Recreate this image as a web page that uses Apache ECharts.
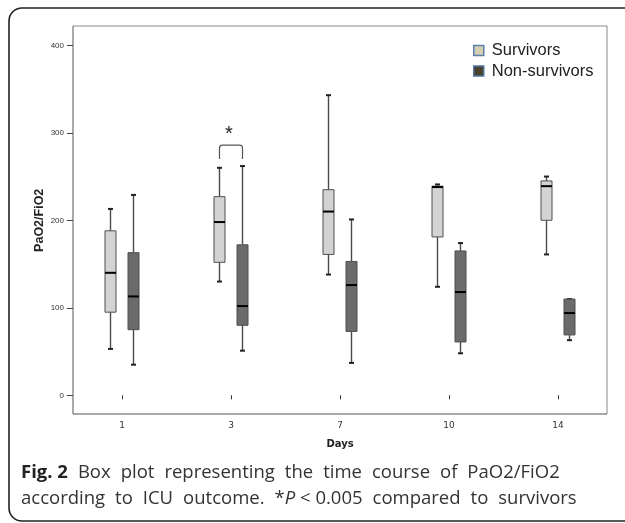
<!DOCTYPE html>
<html>
<head>
<meta charset="utf-8">
<script src="https://cdn.jsdelivr.net/npm/echarts@6/dist/echarts.min.js"></script>
<style>html,body{margin:0;padding:0;background:#fff;}#c{width:625px;height:523px;}</style>
</head>
<body>
<div id="c"></div>
<script>
var days = ['1', '3', '7', '10', '14'];
var yTicks = [0, 100, 200, 300, 400];
// [dayIndex, min, Q1, median, Q3, max]
var survivors = [
  [0, 53, 95, 140, 188, 213],
  [1, 130, 152, 198, 227, 260],
  [2, 138, 161, 210, 235, 343],
  [3, 124, 181, 238, 239, 241],
  [4, 161, 200, 239, 245, 250]
];
var nonSurvivors = [
  [0, 35, 75, 113, 163, 229],
  [1, 51, 80, 102, 172, 262],
  [2, 37, 73, 126, 153, 201],
  [3, 48, 61, 118, 165, 174],
  [4, 63, 69, 94, 110, 110]
];
// [dayIndex, leg bottom, bracket top, star position]
var significance = [[1, 270, 286, 300]];

function boxRenderer(offset, fill) {
  return function (params, api) {
    var x = api.value(0);
    var lo = api.coord([x, api.value(1)]);
    var q1 = api.coord([x, api.value(2)]);
    var md = api.coord([x, api.value(3)]);
    var q3 = api.coord([x, api.value(4)]);
    var hi = api.coord([x, api.value(5)]);
    var cx = lo[0] + offset;
    var hw = 5.5, cw = 2.5;
    var wStyle = {stroke: '#4a4a4a', lineWidth: 1.4};
    var cStyle = {stroke: '#222', lineWidth: 2};
    var children = [];
    if (hi[1] < q3[1] - 0.5) {
      children.push({type: 'line', shape: {x1: cx, y1: hi[1], x2: cx, y2: q3[1]}, style: wStyle});
    }
    children.push({type: 'line', shape: {x1: cx, y1: q1[1], x2: cx, y2: lo[1]}, style: wStyle});
    children.push({type: 'line', shape: {x1: cx - cw, y1: hi[1], x2: cx + cw, y2: hi[1]}, style: cStyle});
    children.push({type: 'line', shape: {x1: cx - cw, y1: lo[1], x2: cx + cw, y2: lo[1]}, style: cStyle});
    children.push({type: 'rect', shape: {x: cx - hw, y: q3[1], width: hw * 2, height: q1[1] - q3[1]},
      style: {fill: fill, stroke: '#4f4f4f', lineWidth: 1}});
    children.push({type: 'line', shape: {x1: cx - hw, y1: md[1], x2: cx + hw, y2: md[1]}, style: {stroke: '#000', lineWidth: 2}});
    return {type: 'group', children: children};
  };
}

function bracketRenderer(params, api) {
  var x = api.value(0);
  var b = api.coord([x, api.value(1)]);
  var t = api.coord([x, api.value(2)]);
  var s = api.coord([x, api.value(3)]);
  var x1 = b[0] - 11.5, x2 = b[0] + 11.5, r = 3;
  var path = 'M' + x1 + ',' + b[1] + ' L' + x1 + ',' + (t[1] + r) + ' Q' + x1 + ',' + t[1] + ' ' + (x1 + r) + ',' + t[1] +
    ' L' + (x2 - r) + ',' + t[1] + ' Q' + x2 + ',' + t[1] + ' ' + x2 + ',' + (t[1] + r) + ' L' + x2 + ',' + b[1];
  return {type: 'group', children: [
    {type: 'path', shape: {pathData: path}, style: {fill: 'none', stroke: '#555', lineWidth: 1.2}},
    {type: 'text', x: b[0] - 2, y: s[1] + 2, style: {text: '*', fill: '#222', font: '20px "Liberation Sans", Arial', align: 'center', verticalAlign: 'middle'}}
  ]};
}

var capRich = {
  b: {fontFamily: 'Open Sans', fontWeight: 'bold', fontSize: 18.5, fill: '#222'},
  i: {fontFamily: 'Open Sans', fontStyle: 'italic', fontSize: 18.5, fill: '#333'},
  s: {fontFamily: 'Open Sans', fontSize: 18.5, width: 10}
};
function spaced(str) { return str.split(' ').join('{s| }'); }

var chart = echarts.init(document.getElementById('c'));
chart.setOption({
  animation: false,
  backgroundColor: '#fff',
  grid: {left: 67.5, width: 545, top: 45.3, height: 350},
  legend: {
    orient: 'vertical', left: 468, top: 37, itemWidth: 10, itemHeight: 10, itemGap: 3.5,
    icon: 'rect',
    textStyle: {fontFamily: 'Liberation Sans', fontSize: 16.5, color: '#222', padding: [0, 0, 0, 3]},
    data: [
      {name: 'Survivors', itemStyle: {color: '#d5cfb3', borderColor: '#5a80ab', borderWidth: 1.5}},
      {name: 'Non-survivors', itemStyle: {color: '#4a4330', borderColor: '#4f74a0', borderWidth: 1.5}}
    ]
  },
  xAxis: {
    type: 'category', data: days, offset: 19,
    name: 'Days', nameLocation: 'middle', nameGap: 25,
    nameTextStyle: {fontFamily: 'DejaVu Sans', fontWeight: 'bold', fontSize: 10, color: '#222'},
    axisLine: {show: false},
    axisTick: {show: true, alignWithLabel: true, length: 4, lineStyle: {color: '#333'}},
    axisLabel: {fontFamily: 'DejaVu Sans', fontSize: 9, color: '#333', margin: 7},
    splitLine: {show: false}
  },
  yAxis: {
    type: 'value', min: yTicks[0], max: yTicks[yTicks.length - 1], interval: 100, offset: -5.5,
    name: 'PaO2/FiO2', nameLocation: 'middle', nameGap: 27, nameMoveOverlap: false,
    nameTextStyle: {fontFamily: 'Liberation Sans', fontWeight: 'bold', fontSize: 12.5, color: '#222'},
    axisLine: {show: false},
    axisTick: {show: true, length: 6, lineStyle: {color: '#444'}},
    axisLabel: {fontFamily: 'Liberation Sans', fontSize: 8, color: '#333', margin: 9},
    splitLine: {show: false}
  },
  graphic: [
    {type: 'rect', shape: {x: 9, y: 8, width: 1000, height: 513, r: 13}, style: {fill: 'none', stroke: '#222', lineWidth: 1.6}, silent: true},
    {type: 'line', shape: {x1: 73, y1: 26, x2: 607, y2: 26}, style: {stroke: '#888', lineWidth: 1}},
    {type: 'line', shape: {x1: 607, y1: 26, x2: 607, y2: 414}, style: {stroke: '#888', lineWidth: 1}},
    {type: 'line', shape: {x1: 73, y1: 26, x2: 73, y2: 414}, style: {stroke: '#555', lineWidth: 1}},
    {type: 'line', shape: {x1: 73, y1: 414, x2: 607, y2: 414}, style: {stroke: '#555', lineWidth: 1}},
    {type: 'text', left: 21, top: 463, style: {
      text: '{b|Fig. 2}' + '{s| }' + spaced('Box plot representing the time course of PaO2/FiO2'),
      font: '18.5px "Open Sans"', fill: '#333', rich: capRich
    }},
    {type: 'text', left: 21, top: 489, style: {
      text: spaced('according to ICU outcome. *') + '{i|P} < ' + spaced('0.005 compared to survivors'),
      font: '18.5px "Open Sans"', fill: '#333', rich: capRich
    }}
  ],
  series: [
    {name: 'Survivors', type: 'custom', renderItem: boxRenderer(-11.5, '#d3d3d3'), data: survivors,
      encode: {x: 0, y: [1, 2, 3, 4, 5]}, itemStyle: {color: '#d5cfb3'}},
    {name: 'Non-survivors', type: 'custom', renderItem: boxRenderer(11.5, '#6b6b6b'), data: nonSurvivors,
      encode: {x: 0, y: [1, 2, 3, 4, 5]}, itemStyle: {color: '#4a4330'}},
    {name: 'sig', type: 'custom', renderItem: bracketRenderer, data: significance, encode: {x: 0, y: [1, 2, 3]}}
  ]
});
</script>
</body>
</html>
